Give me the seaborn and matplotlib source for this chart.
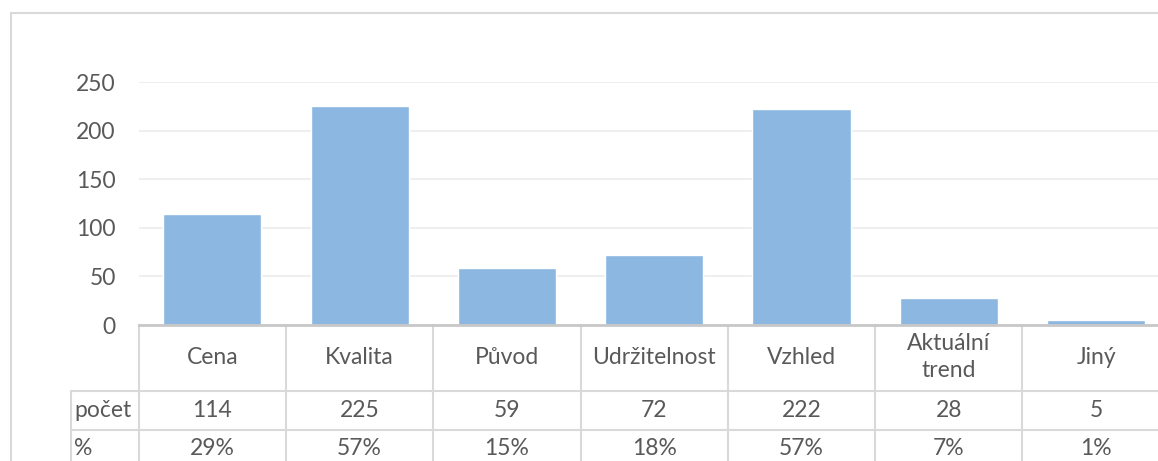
import matplotlib
matplotlib.use("Agg")
import matplotlib.pyplot as plt
from matplotlib.lines import Line2D
import seaborn as sns
import pandas as pd

categories = ["Cena", "Kvalita", "Původ", "Udržitelnost", "Vzhled", "Aktuální\ntrend", "Jiný"]
counts = [114, 225, 59, 72, 222, 28, 5]
percents = ["29%", "57%", "15%", "18%", "57%", "7%", "1%"]
row_labels = ["počet", "%"]
yticks = [0, 50, 100, 150, 200, 250]

sns.set_theme(style="white")
plt.rcParams["font.family"] = ["Lato", "DejaVu Sans"]

TXT = "#595959"
GRID = "#EFEFEF"
TBL = "#D9D9D9"
BAR = "#8BB7E1"
FS = 16.5

W, H = 1158, 461
fig = plt.figure(figsize=(W / 100, H / 100), dpi=100)
left_px, right_px = 138.7, 1169.8
top_px, zero_px = 82, 325
ax = fig.add_axes([left_px / W, 1 - zero_px / H, (right_px - left_px) / W, (zero_px - top_px) / H])

df = pd.DataFrame({"cat": categories, "n": counts})
sns.barplot(data=df, x="cat", y="n", color=BAR, saturation=1, width=0.667, ax=ax)

ax.set_xlim(-0.5, len(categories) - 0.5)
ax.set_ylim(0, 250)
ax.set_yticks(yticks)
ax.set_yticklabels([str(v) for v in yticks], color=TXT, fontsize=FS)
ax.tick_params(axis="y", length=0, pad=16.5)
ax.set_xticks([])
ax.set_xlabel("")
ax.set_ylabel("")
ax.yaxis.grid(True, color=GRID, lw=1.5)
ax.set_axisbelow(True)
for s in ["top", "right", "left"]:
    ax.spines[s].set_visible(False)
ax.spines["bottom"].set_color("#C8C8C8")
ax.spines["bottom"].set_linewidth(2)

tr = ax.get_xaxis_transform()
hpx = zero_px - top_px
def yf(py):
    return -(py - zero_px) / hpx

y_r1, y_r2, y_bot = yf(391), yf(430), yf(475)
x_lab = -0.5 - (left_px - 71) / ((right_px - left_px) / len(categories))

# table lines
for i in range(len(categories) + 1):
    ax.plot([i - 0.5, i - 0.5], [0, y_bot], transform=tr, color=TBL, lw=1.5, clip_on=False)
ax.plot([x_lab, x_lab], [y_r1, y_bot], transform=tr, color=TBL, lw=1.5, clip_on=False)
for yy in (y_r1, y_r2):
    ax.plot([x_lab, len(categories) - 0.5], [yy, yy], transform=tr, color=TBL, lw=1.5, clip_on=False)

# table text
for i, (c, n, p) in enumerate(zip(categories, counts, percents)):
    ax.text(i, yf(357), c, transform=tr, ha="center", va="center", color=TXT, fontsize=FS,
            linespacing=1.35, clip_on=False)
    ax.text(i, yf(410), str(n), transform=tr, ha="center", va="center", color=TXT, fontsize=FS, clip_on=False)
    ax.text(i, yf(448), p, transform=tr, ha="center", va="center", color=TXT, fontsize=FS, clip_on=False)
ax.text(x_lab + 0.02, yf(410), row_labels[0], transform=tr, ha="left", va="center", color=TXT, fontsize=FS, clip_on=False)
ax.text(x_lab + 0.02, yf(448), row_labels[1], transform=tr, ha="left", va="center", color=TXT, fontsize=FS, clip_on=False)

# outer chart border
bx, by = 11 / W, 1 - 13 / H
fig.add_artist(Line2D([bx, bx], [0, by], transform=fig.transFigure, color=TBL, lw=1.5))
fig.add_artist(Line2D([bx, 1], [by, by], transform=fig.transFigure, color=TBL, lw=1.5))

fig.savefig("out.png", dpi=100, facecolor="white")
